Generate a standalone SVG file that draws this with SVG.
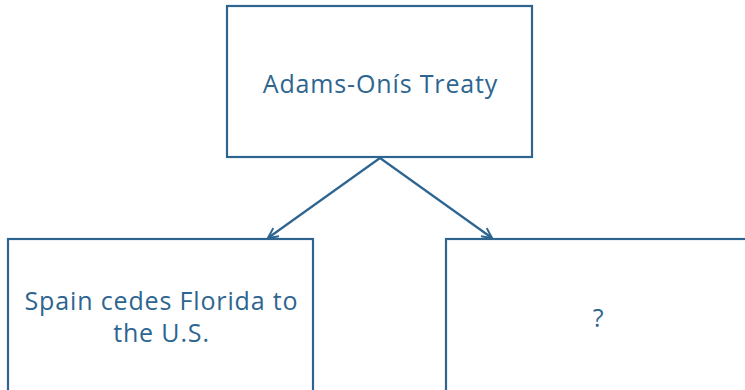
<svg xmlns="http://www.w3.org/2000/svg" width="745" height="390" viewBox="0 0 745 390">
<style>
.box{fill:#fff;stroke:#2d6590;stroke-width:2.2}
.t{font-family:"Open Sans","Liberation Sans",sans-serif;font-size:25px;letter-spacing:0.85px;fill:#2d6590;text-anchor:middle}
.c{fill:none;stroke:#2d6590;stroke-width:2.2}
</style>
<defs>
<marker id="ah" viewBox="0 0 12 12" refX="11" refY="6" markerWidth="12" markerHeight="12" markerUnits="userSpaceOnUse" orient="auto">
<path d="M1,1 L11,6 L1,11" fill="none" stroke="#2d6590" stroke-width="2"/>
</marker>
</defs>
<rect width="745" height="390" fill="#fff"/>
<g id="connectors">
<path class="c" d="M380,158 L268,238" marker-end="url(#ah)"/>
<path class="c" d="M380,158 L492,238" marker-end="url(#ah)"/>
</g>
<g id="top">
<rect class="box" x="227" y="6" width="305" height="151"/>
<text class="t" x="380.5" y="93">Adams-Onís Treaty</text>
</g>
<g id="left">
<rect class="box" x="8" y="239" width="305" height="160"/>
<text class="t" x="161.5" y="310">Spain cedes Florida to</text>
<text class="t" x="161.5" y="342">the U.S.</text>
</g>
<g id="right">
<rect class="box" x="446" y="239" width="310" height="160"/>
<text class="t" x="598.5" y="327">?</text>
</g>
</svg>
